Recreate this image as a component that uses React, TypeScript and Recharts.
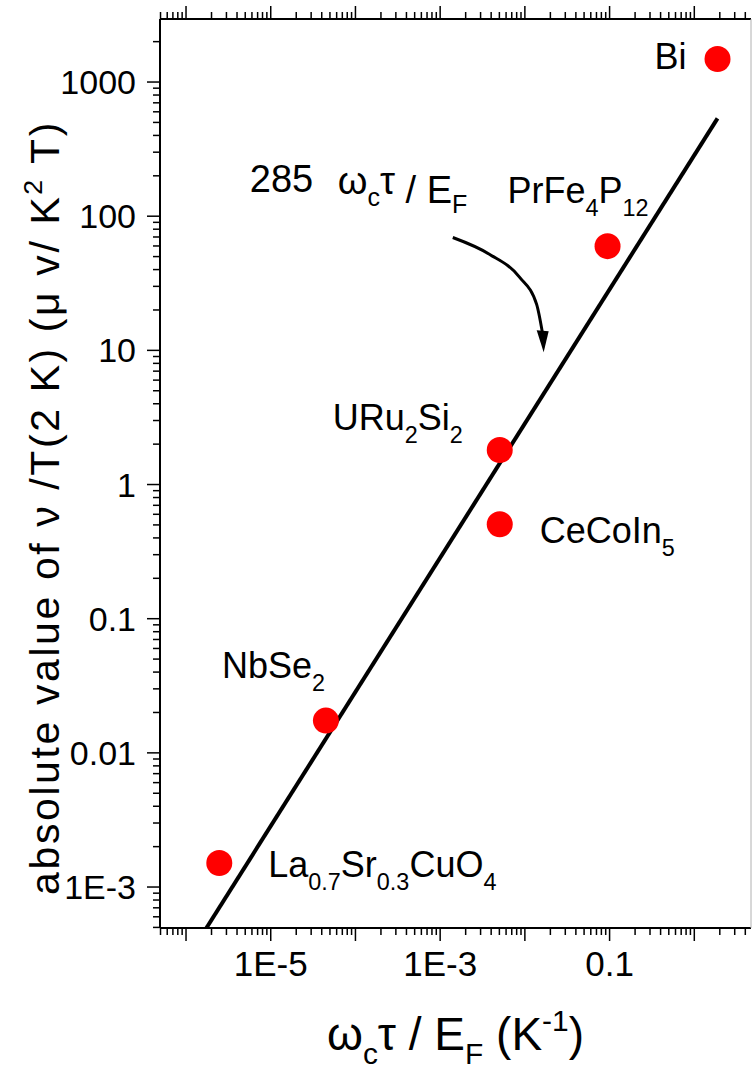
import { ComposedChart, XAxis, YAxis, Line, Scatter } from "recharts";

const FONT = '"Liberation Sans", Arial, Helvetica, sans-serif';

// visible axis range
const X_DOMAIN = [4.93e-7, 4.67];
const Y_DOMAIN = [4.95e-4, 2950];

const X_LABEL_VALUES = [1e-5, 1e-3, 0.1];
const X_LABEL_TEXT = ["1E-5", "1E-3", "0.1"];
const Y_LABEL_VALUES = [1e-3, 0.01, 0.1, 1, 10, 100, 1000];
const Y_LABEL_TEXT = ["1E-3", "0.01", "0.1", "1", "10", "100", "1000"];
const X_DECADES = [-7, -6, -5, -4, -3, -2, -1, 0];
const Y_DECADES = [-4, -3, -2, -1, 0, 1, 2, 3];

// materials: omega_c tau / E_F  vs  |nu| / T
const MATERIALS = ["La", "NbSe2", "URu2Si2", "CeCoIn5", "PrFe4P12", "Bi"];
const OMEGA_TAU = [2.47e-6, 4.48e-5, 5.05e-3, 5.05e-3, 0.0946, 1.88];
const NU_OVER_T = [1.51e-3, 0.0174, 1.81, 0.506, 59.8, 1486];
const LABEL_TEXT = [
  "La_{0.7}Sr_{0.3}CuO_{4}",
  "NbSe_{2}",
  "URu_{2}Si_{2}",
  "CeCoIn_{5}",
  "PrFe_{4}P_{12}",
  "Bi",
];

// 285 * omega_c tau / E_F
const FIT_X = [1.74e-6, 1.88];
const FIT_Y = [4.95e-4, 536];

// curved arrow pointing at the fit line
const ARROW_X = [1.41e-3, 3.85e-3, 8.69e-3, 0.01377, 0.01622];
const ARROW_Y = [69.4, 51.9, 35.0, 22.0, 13.2];

const LABEL_OFFSET: Record<string, [number, number]> = {
  La: [49, 14],
  NbSe2: [-104, -43],
  URu2Si2: [-167, -20],
  CeCoIn5: [40, 19],
  PrFe4P12: [-100, -43],
  Bi: [-63, 10],
};

const points = MATERIALS.map((name, i) => ({ name, x: OMEGA_TAU[i], y: NU_OVER_T[i] }));
const fit = FIT_X.map((x, i) => ({ x, y: FIT_Y[i] }));
const arrow = ARROW_X.map((x, i) => ({ x, y: ARROW_Y[i], i }));

const logTicks = (decades: number[], domain: number[]) => {
  const out: number[] = [];
  decades.forEach((d) => {
    for (let m = 1; m <= 9; m++) {
      const v = m * Math.pow(10, d);
      if (v >= domain[0] && v <= domain[1]) out.push(v);
    }
  });
  return out;
};
const X_TICKS = logTicks(X_DECADES, X_DOMAIN);
const Y_TICKS = logTicks(Y_DECADES, Y_DOMAIN);

const isDecade = (v: number) => {
  const l = Math.log10(v);
  return Math.abs(l - Math.round(l)) < 1e-6;
};
const findLabel = (v: number, values: number[], texts: string[]) => {
  const i = values.findIndex((l) => Math.abs(v / l - 1) < 1e-6);
  return i >= 0 ? texts[i] : null;
};

// text with _{sub} and ^{sup} parts
function Rich({ x, y, text, size, anchor = "start", small = 0.65, shift = 0.36, transform, spacing }: any) {
  const parts = text.split(/(_\{[^}]*\}|\^\{[^}]*\})/).filter((p: string) => p !== "");
  let cur = 0;
  return (
    <text
      x={x}
      y={y}
      fontSize={size}
      fontFamily={FONT}
      textAnchor={anchor}
      fill="#000"
      transform={transform}
      letterSpacing={spacing}
    >
      {parts.map((p: string, k: number) => {
        let target = 0;
        let t = p;
        let fs = size;
        if (p.startsWith("_{")) {
          target = size * shift;
          t = p.slice(2, -1);
          fs = size * small;
        } else if (p.startsWith("^{")) {
          target = -size * 0.42;
          t = p.slice(2, -1);
          fs = size * small;
        }
        const dy = target - cur;
        cur = target;
        return (
          <tspan key={k} dy={dy} fontSize={fs}>
            {t}
          </tspan>
        );
      })}
    </text>
  );
}

const BottomTick = (props: any) => {
  const { x, y, payload } = props;
  const v = payload.value;
  const label = findLabel(v, X_LABEL_VALUES, X_LABEL_TEXT);
  return (
    <g>
      <line x1={x} x2={x} y1={y} y2={y + (isDecade(v) ? 13 : 7)} stroke="#000" strokeWidth={1.5} />
      {label && (
        <text x={x} y={y + 48} textAnchor="middle" fontSize={35} fontFamily={FONT} fill="#000">
          {label}
        </text>
      )}
    </g>
  );
};

const TopTick = (props: any) => {
  const { x, y, payload } = props;
  return <line x1={x} x2={x} y1={y} y2={y - (isDecade(payload.value) ? 13 : 7)} stroke="#000" strokeWidth={1.5} />;
};

const LeftTick = (props: any) => {
  const { x, y, payload } = props;
  const v = payload.value;
  const label = findLabel(v, Y_LABEL_VALUES, Y_LABEL_TEXT);
  return (
    <g>
      <line x1={x} x2={x - (isDecade(v) ? 13 : 7)} y1={y} y2={y} stroke="#000" strokeWidth={1.5} />
      {label && (
        <text x={x - 24} y={y + 12} textAnchor="end" fontSize={34} fontFamily={FONT} fill="#000">
          {label}
        </text>
      )}
    </g>
  );
};

const renderPoint = (props: any) => {
  const { cx, cy, payload } = props;
  const [dx, dy] = LABEL_OFFSET[payload.name];
  const text = LABEL_TEXT[MATERIALS.indexOf(payload.name)];
  return (
    <g>
      <circle cx={cx} cy={cy} r={13} fill="#ff0000" />
      <Rich x={cx + dx} y={cy + dy} text={text} size={36} />
    </g>
  );
};

const renderArrowDot = (props: any) => {
  const { cx, cy, index } = props;
  if (index === 0) {
    return (
      <g key="a0">
        <text x={cx - 203} y={cy - 45} fontSize={38} fontFamily={FONT} fill="#000">
          285
        </text>
        <text x={cx - 115} y={cy - 43} fontSize={38} fontFamily={FONT} fill="#000">
          <tspan>ω</tspan>
          <tspan dy={12} fontSize={25}>c</tspan>
          <tspan dy={-12}>τ</tspan>
          <tspan dy={9}> / E</tspan>
          <tspan dy={10} fontSize={25}>F</tspan>
        </text>
      </g>
    );
  }
  if (index === ARROW_X.length - 1) {
    return (
      <polygon
        key="ah"
        points={`${cx - 6},${cy - 4} ${cx + 6},${cy - 3} ${cx + 1},${cy + 18}`}
        fill="#000"
      />
    );
  }
  return <g key={`d${index}`} />;
};

const XTitle = (props: any) => {
  const { viewBox } = props;
  return (
    <Rich
      x={viewBox.x + viewBox.width / 2}
      y={viewBox.y + 122}
      text="ω_{c}τ / E_{F} (K^{-1})"
      size={46}
      anchor="middle"
      shift={0.3}
    />
  );
};

const YTitle = (props: any) => {
  const { viewBox } = props;
  const cx = viewBox.x + 59;
  const cy = viewBox.y + viewBox.height / 2;
  return (
    <Rich
      x={-34}
      y={0}
      transform={`translate(${cx},${cy}) rotate(-90)`}
      text="absolute value of ν /T(2 K) (μ v/ K^{2} T)"
      size={41}
      anchor="middle"
      spacing={2.6}
    />
  );
};

export default function App() {
  return (
    <div style={{ position: "absolute", left: 0, top: 0, background: "#fff" }}>
      <ComposedChart width={753} height={1074} margin={{ top: 0, right: 0, bottom: 0, left: 0 }}>
        <XAxis
          dataKey="x"
          type="number"
          scale="log"
          domain={X_DOMAIN}
          allowDataOverflow
          ticks={X_TICKS}
          interval={0}
          tickSize={0}
          tickMargin={0}
          tick={<BottomTick />}
          axisLine={{ stroke: "#000", strokeWidth: 2 }}
          height={146}
          label={<XTitle />}
        />
        <XAxis
          xAxisId="top"
          orientation="top"
          dataKey="x"
          type="number"
          scale="log"
          domain={X_DOMAIN}
          allowDataOverflow
          ticks={X_TICKS}
          interval={0}
          tickSize={0}
          tickMargin={0}
          tick={<TopTick />}
          axisLine={{ stroke: "#000", strokeWidth: 2 }}
          height={19}
        />
        <YAxis
          dataKey="y"
          type="number"
          scale="log"
          domain={Y_DOMAIN}
          allowDataOverflow
          ticks={Y_TICKS}
          interval={0}
          tickSize={0}
          tickMargin={0}
          tick={<LeftTick />}
          axisLine={{ stroke: "#000", strokeWidth: 2 }}
          width={160}
          label={<YTitle />}
        />
        <YAxis
          yAxisId="right"
          orientation="right"
          type="number"
          scale="log"
          domain={Y_DOMAIN}
          allowDataOverflow
          tick={false}
          tickLine={false}
          axisLine={{ stroke: "#b0b0b0", strokeWidth: 1 }}
          width={2}
        />
        <Line
          data={fit}
          dataKey="y"
          type="linear"
          stroke="#000"
          strokeWidth={4}
          dot={false}
          isAnimationActive={false}
        />
        <Line
          data={arrow}
          dataKey="y"
          type="monotone"
          stroke="#000"
          strokeWidth={3}
          dot={renderArrowDot}
          isAnimationActive={false}
        />
        <Scatter data={points} dataKey="y" shape={renderPoint} isAnimationActive={false} />
      </ComposedChart>
    </div>
  );
}
